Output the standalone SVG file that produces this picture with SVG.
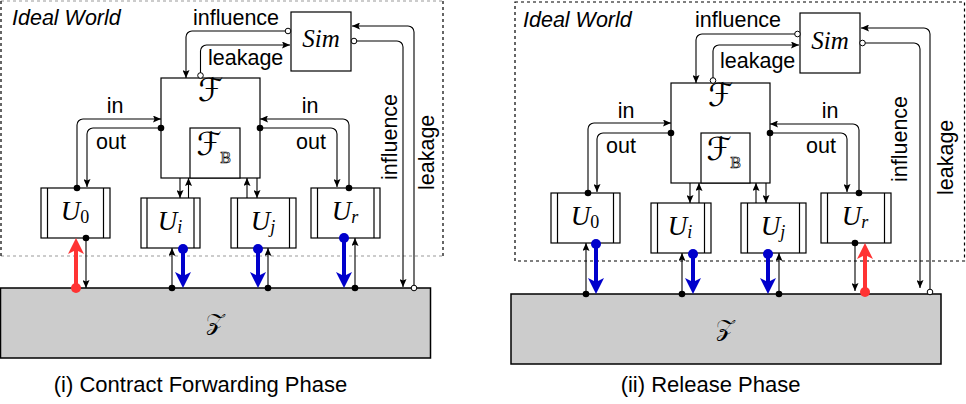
<svg xmlns="http://www.w3.org/2000/svg" width="966" height="404" viewBox="0 0 966 404">
<defs>
<style>
.t{font-family:"Liberation Sans",Arial,sans-serif;font-size:21.5px;fill:#000}
.cap{font-size:22px}
.it{font-style:italic}
.m{font-family:"Liberation Serif","DejaVu Serif",serif;font-style:italic;fill:#000}
.cal{font-family:"DejaVu Sans","Noto Sans CJK SC",serif;fill:#000}
.bb{font-family:"DejaVu Serif",serif;font-size:15px;fill:#fff;stroke:#000;stroke-width:0.7;font-style:normal}
.box{fill:#fff;stroke:#000;stroke-width:1.2}
.z{fill:#ccc;stroke:#000;stroke-width:1.5}
.ln{fill:none;stroke:#000;stroke-width:1.2}
.c{fill:none;stroke:#000;stroke-width:1.1}
.dot{fill:#000}
.od{fill:#fff;stroke:#000;stroke-width:1}
.bl{fill:none;stroke:#0000cc;stroke-width:4}
.rd{fill:none;stroke:#ff3333;stroke-width:4}
.gd{stroke:#999;stroke-width:1.2;stroke-dasharray:3 3}
.kd{stroke:#000;stroke-width:1.2;stroke-dasharray:3 3}
</style>
<marker id="a" markerUnits="userSpaceOnUse" viewBox="0 -3.5 8 7" markerWidth="8" markerHeight="7" refX="8" refY="0" orient="auto"><path d="M0,-3.5 L8,0 L0,3.5 L1.5,0 Z" fill="#000"/></marker>
<marker id="ab" markerUnits="userSpaceOnUse" viewBox="0 -8 16 16" markerWidth="16" markerHeight="16" refX="4" refY="0" orient="auto"><path d="M0,-8 L16,0 L0,8 L4,0 Z" fill="#0000cc"/></marker>
<marker id="ar" markerUnits="userSpaceOnUse" viewBox="0 -8 16 16" markerWidth="16" markerHeight="16" refX="4" refY="0" orient="auto"><path d="M0,-8 L16,0 L0,8 L4,0 Z" fill="#ff3333"/></marker>
</defs>

<!-- ===== Panel (i) ===== -->
<g id="ideal1">
<line class="gd" x1="1" y1="1" x2="443" y2="1"/>
<line class="gd" x1="1" y1="256" x2="443" y2="256"/>
<line class="kd" x1="1" y1="1" x2="1" y2="256"/>
<line class="kd" x1="443" y1="1" x2="443" y2="256"/>
<text class="t it" x="12" y="25">Ideal World</text>
</g>
<g id="Z1"><rect class="z" x="0.5" y="288" width="430" height="70"/><text class="cal" x="215" y="330" font-size="24" text-anchor="middle">𝒵</text></g>
<g id="Sim1"><rect class="box" x="291" y="12" width="60" height="59"/><text class="m" x="321" y="47" font-size="25" text-anchor="middle">Sim</text></g>
<g id="F1"><rect class="box" x="161" y="78" width="99" height="100"/><text class="cal" x="210.5" y="101" font-size="32" text-anchor="middle">ℱ</text></g>
<g id="FB1"><rect class="box" x="190" y="128" width="50" height="50"/><text class="cal" x="209" y="155" font-size="32" text-anchor="middle">ℱ</text><text class="bb" x="220" y="163">B</text></g>
<g id="U01"><rect class="box" x="41" y="188" width="69" height="50"/><line class="ln" x1="47.5" y1="188" x2="47.5" y2="238"/><line class="ln" x1="103.5" y1="188" x2="103.5" y2="238"/><text class="m" x="75" y="220" font-size="27" text-anchor="middle">U<tspan font-size="18" font-style="normal" dy="3">0</tspan></text></g>
<g id="Ui1"><rect class="box" x="141" y="198" width="59" height="50"/><line class="ln" x1="147" y1="198" x2="147" y2="248"/><line class="ln" x1="194" y1="198" x2="194" y2="248"/><text class="m" x="170" y="230" font-size="27" text-anchor="middle">U<tspan font-size="18" dy="3">i</tspan></text></g>
<g id="Uj1"><rect class="box" x="231" y="198" width="65" height="50"/><line class="ln" x1="237.5" y1="198" x2="237.5" y2="248"/><line class="ln" x1="289.5" y1="198" x2="289.5" y2="248"/><text class="m" x="263" y="230" font-size="27" text-anchor="middle">U<tspan font-size="18" dy="3">j</tspan></text></g>
<g id="Ur1"><rect class="box" x="311" y="188" width="69" height="50"/><line class="ln" x1="317.5" y1="188" x2="317.5" y2="238"/><line class="ln" x1="374" y1="188" x2="374" y2="238"/><text class="m" x="345" y="220" font-size="27" text-anchor="middle">U<tspan font-size="18" dy="3">r</tspan></text></g>

<g id="connectors1">
<path class="c" d="M288,31 H192 A6,6 0 0 0 186,37 V78" marker-end="url(#a)"/>
<path class="c" d="M200.5,73 V51 A6,6 0 0 1 206.5,45 H290" marker-end="url(#a)"/>
<path class="c" d="M77,188 V125 A6,6 0 0 1 83,119 H161" marker-end="url(#a)"/>
<path class="c" d="M161,128 H93 A6,6 0 0 0 87,134 V187" marker-end="url(#a)"/>
<path class="c" d="M349,188 V125 A6,6 0 0 0 343,119 H260" marker-end="url(#a)"/>
<path class="c" d="M260,128 H331 A6,6 0 0 1 337,134 V187" marker-end="url(#a)"/>
<path class="c" d="M180,178 V198" marker-end="url(#a)"/>
<path class="c" d="M188.5,198 V178" marker-end="url(#a)"/>
<path class="c" d="M247,198 V178" marker-end="url(#a)"/>
<path class="c" d="M257,178 V198" marker-end="url(#a)"/>
<path class="c" d="M356,41 H397 A6,6 0 0 1 403,47 V287" marker-end="url(#a)"/>
<path class="c" d="M414,285.5 V32 A6,6 0 0 0 408,26 H352" marker-end="url(#a)"/>
<path class="c" d="M86,238 V288" marker-end="url(#a)"/>
<path class="c" d="M172,288 V248" marker-end="url(#a)"/>
<path class="c" d="M268,288 V248" marker-end="url(#a)"/>
<path class="c" d="M355,288 V238" marker-end="url(#a)"/>
<path class="rd" d="M76,288 V250" marker-end="url(#ar)"/>
<path class="bl" d="M183,249 V276" marker-end="url(#ab)"/>
<path class="bl" d="M258,249 V276" marker-end="url(#ab)"/>
<path class="bl" d="M344,238 V276" marker-end="url(#ab)"/>
<circle class="od" cx="288" cy="31" r="2.8"/>
<circle class="od" cx="200.5" cy="75.5" r="2.8"/>
<circle class="od" cx="354" cy="41" r="2.8"/>
<circle class="od" cx="414" cy="288" r="2.8"/>
<circle class="dot" cx="161" cy="128" r="3.3"/>
<circle class="dot" cx="77" cy="188" r="3.3"/>
<circle class="dot" cx="260" cy="128" r="3.3"/>
<circle class="dot" cx="349" cy="188" r="3.3"/>
<circle class="dot" cx="86" cy="238" r="3.3"/>
<circle class="dot" cx="172" cy="288" r="3.3"/>
<circle class="dot" cx="268" cy="288" r="3.3"/>
<circle class="dot" cx="355" cy="288" r="3.3"/>
<circle cx="76" cy="288" r="5" fill="#ff3333"/>
<circle cx="183" cy="249" r="5" fill="#0000cc"/>
<circle cx="258" cy="249" r="5" fill="#0000cc"/>
<circle cx="344" cy="238" r="5" fill="#0000cc"/>
</g>
<g id="labels1">
<text class="t" x="193" y="25">influence</text>
<text class="t" x="208" y="65">leakage</text>
<text class="t" x="115" y="113" text-anchor="middle">in</text>
<text class="t" x="96" y="149">out</text>
<text class="t" x="310" y="113" text-anchor="middle">in</text>
<text class="t" x="296" y="149">out</text>
<text class="t" transform="translate(397,180) rotate(-90)">influence</text>
<text class="t" transform="translate(433.5,190) rotate(-90)">leakage</text>
<text class="t cap" x="200.5" y="392" text-anchor="middle">(i) Contract Forwarding Phase</text>
</g>

<!-- ===== Panel (ii) ===== -->
<g id="ideal2">
<rect x="515" y="2" width="449.5" height="259" fill="none" class="kd"/>
<text class="t it" x="523" y="27">Ideal World</text>
</g>
<g id="Z2"><rect class="z" x="511" y="294" width="430" height="70"/><text class="cal" x="725" y="336" font-size="24" text-anchor="middle">𝒵</text></g>
<g id="Sim2"><rect class="box" x="800" y="13" width="60" height="60"/><text class="m" x="830" y="49" font-size="25" text-anchor="middle">Sim</text></g>
<g id="F2"><rect class="box" x="671" y="83" width="99" height="100"/><text class="cal" x="720.5" y="106" font-size="32" text-anchor="middle">ℱ</text></g>
<g id="FB2"><rect class="box" x="701" y="133" width="49" height="50"/><text class="cal" x="719" y="160" font-size="32" text-anchor="middle">ℱ</text><text class="bb" x="730" y="168">B</text></g>
<g id="U02"><rect class="box" x="551" y="193" width="69" height="50"/><line class="ln" x1="557.5" y1="193" x2="557.5" y2="243"/><line class="ln" x1="613.5" y1="193" x2="613.5" y2="243"/><text class="m" x="585" y="225" font-size="27" text-anchor="middle">U<tspan font-size="18" font-style="normal" dy="3">0</tspan></text></g>
<g id="Ui2"><rect class="box" x="651" y="203" width="60" height="50"/><line class="ln" x1="657.5" y1="203" x2="657.5" y2="253"/><line class="ln" x1="704.5" y1="203" x2="704.5" y2="253"/><text class="m" x="680" y="235" font-size="27" text-anchor="middle">U<tspan font-size="18" dy="3">i</tspan></text></g>
<g id="Uj2"><rect class="box" x="741" y="203" width="65" height="50"/><line class="ln" x1="747.5" y1="203" x2="747.5" y2="253"/><line class="ln" x1="799.5" y1="203" x2="799.5" y2="253"/><text class="m" x="773" y="235" font-size="27" text-anchor="middle">U<tspan font-size="18" dy="3">j</tspan></text></g>
<g id="Ur2"><rect class="box" x="821" y="193" width="70" height="50"/><line class="ln" x1="827.5" y1="193" x2="827.5" y2="243"/><line class="ln" x1="884.5" y1="193" x2="884.5" y2="243"/><text class="m" x="855" y="225" font-size="27" text-anchor="middle">U<tspan font-size="18" dy="3">r</tspan></text></g>

<g id="connectors2">
<path class="c" d="M797.5,34 H702 A6,6 0 0 0 696,40 V83" marker-end="url(#a)"/>
<path class="c" d="M713,78 V51 A6,6 0 0 1 719,45 H799" marker-end="url(#a)"/>
<path class="c" d="M588,193 V129 A6,6 0 0 1 594,123 H671" marker-end="url(#a)"/>
<path class="c" d="M671,133 H603 A6,6 0 0 0 597,139 V192" marker-end="url(#a)"/>
<path class="c" d="M859,193 V130 A6,6 0 0 0 853,124 H770" marker-end="url(#a)"/>
<path class="c" d="M770,133 H841 A6,6 0 0 1 847,139 V192" marker-end="url(#a)"/>
<path class="c" d="M690,183 V203" marker-end="url(#a)"/>
<path class="c" d="M699,203 V183" marker-end="url(#a)"/>
<path class="c" d="M756,203 V183" marker-end="url(#a)"/>
<path class="c" d="M766,183 V203" marker-end="url(#a)"/>
<path class="c" d="M865,43 H914 A6,6 0 0 1 920,49 V288" marker-end="url(#a)"/>
<path class="c" d="M930,289 V34 A6,6 0 0 0 924,28 H861" marker-end="url(#a)"/>
<path class="c" d="M586,294 V243" marker-end="url(#a)"/>
<path class="c" d="M682,294 V253" marker-end="url(#a)"/>
<path class="c" d="M779,294 V253" marker-end="url(#a)"/>
<path class="c" d="M855,243 V291" marker-end="url(#a)"/>
<path class="bl" d="M596,244 V282" marker-end="url(#ab)"/>
<path class="bl" d="M693,254 V282" marker-end="url(#ab)"/>
<path class="bl" d="M768,254 V282" marker-end="url(#ab)"/>
<path class="rd" d="M865,292 V255" marker-end="url(#ar)"/>
<circle class="od" cx="797.5" cy="34" r="2.8"/>
<circle class="od" cx="713" cy="80.5" r="2.8"/>
<circle class="od" cx="862.5" cy="43" r="2.8"/>
<circle class="od" cx="930" cy="292" r="2.8"/>
<circle class="dot" cx="671" cy="133" r="3.3"/>
<circle class="dot" cx="588" cy="193" r="3.3"/>
<circle class="dot" cx="770" cy="133" r="3.3"/>
<circle class="dot" cx="859" cy="193" r="3.3"/>
<circle class="dot" cx="586" cy="294" r="3.3"/>
<circle class="dot" cx="682" cy="294" r="3.3"/>
<circle class="dot" cx="779" cy="294" r="3.3"/>
<circle class="dot" cx="855" cy="243" r="3.3"/>
<circle cx="596" cy="244" r="5" fill="#0000cc"/>
<circle cx="693" cy="254" r="5" fill="#0000cc"/>
<circle cx="768" cy="254" r="5" fill="#0000cc"/>
<circle cx="865" cy="292" r="5" fill="#ff3333"/>
</g>
<g id="labels2">
<text class="t" x="695" y="27">influence</text>
<text class="t" x="720" y="68">leakage</text>
<text class="t" x="626" y="118" text-anchor="middle">in</text>
<text class="t" x="606" y="153">out</text>
<text class="t" x="830" y="118" text-anchor="middle">in</text>
<text class="t" x="806" y="153">out</text>
<text class="t" transform="translate(907,182) rotate(-90)">influence</text>
<text class="t" transform="translate(953,195) rotate(-90)">leakage</text>
<text class="t cap" x="710.5" y="392" text-anchor="middle">(ii) Release Phase</text>
</g>
</svg>
